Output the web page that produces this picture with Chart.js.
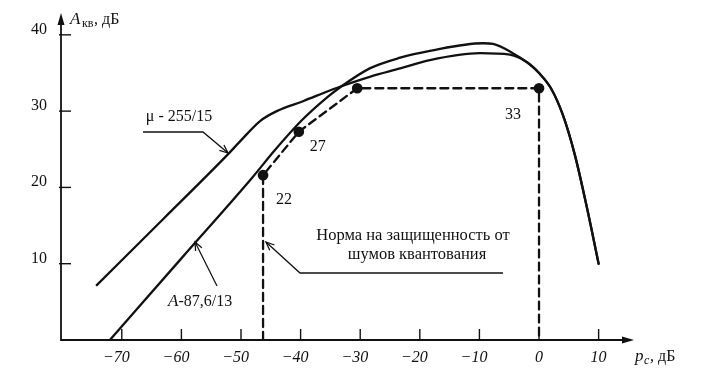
<!DOCTYPE html>
<html>
<head>
<meta charset="utf-8">
<script src="https://cdn.jsdelivr.net/npm/chart.js@4.4.1/dist/chart.umd.min.js"></script>
<style>
  html, body { margin: 0; padding: 0; background: #fff; }
  #wrap { width: 705px; height: 375px; }
</style>
</head>
<body>
<div id="wrap"><canvas id="chart" width="705" height="375"></canvas></div>
<script>
// signal level p_c, dB and protection A_kv, dB
const pcA = [-72, -60, -48.2, -44.3, -39.8, -35.4, -33.4, -28.4, -23.3, -18.3, -9.4, -7.7, -4.4, -2, 0, 2, 4, 6, 8, 10];
const aqA = [0, 10.7, 21.2, 24.9, 28.8, 31.9, 33.1, 35.6, 37.0, 37.9, 38.9, 38.8, 37.6, 36.4, 35.0, 33.0, 29.5, 24.3, 17.5, 10];
const pcMu = [-74.2, -63, -52, -50.2, -46.8, -44, -39.6, -35.1, -33.4, -28.4, -23.3, -18.3, -9.9, -4.9, -2, 0, 2, 4, 6, 8, 10];
const aqMu = [7.2, 15.9, 24.5, 26.0, 28.7, 30.0, 31.3, 32.7, 33.2, 34.5, 35.6, 36.7, 37.6, 37.4, 36.4, 35.0, 33.0, 29.5, 24.3, 17.5, 10];
// norm line (dashed) with marked points
const normPc = [-46.3, -46.3, -40.3, -30.5, 0, 0];
const normAq = [0, 21.6, 27.3, 33, 33, 0];
const normLabels = ["", "22", "27", "", "33", ""];
const xTicks = [-70, -60, -50, -40, -30, -20, -10, 0, 10];
const yTicks = [10, 20, 30, 40];

const ink = "#111";
const serif = "'Liberation Serif'";
const toXY = (xs, ys) => xs.map((x, i) => ({ x: x, y: ys[i] }));

function arrowTo(ctx, pts) {
  ctx.beginPath();
  ctx.moveTo(pts[0][0], pts[0][1]);
  for (let i = 1; i < pts.length; i++) ctx.lineTo(pts[i][0], pts[i][1]);
  ctx.stroke();
  const [x1, y1] = pts[pts.length - 2];
  const [x2, y2] = pts[pts.length - 1];
  const a = Math.atan2(y2 - y1, x2 - x1);
  ctx.beginPath();
  ctx.moveTo(x2 - 9 * Math.cos(a - 0.4), y2 - 9 * Math.sin(a - 0.4));
  ctx.lineTo(x2, y2);
  ctx.lineTo(x2 - 9 * Math.cos(a + 0.4), y2 - 9 * Math.sin(a + 0.4));
  ctx.stroke();
}

const drawing = {
  id: "drawing",
  afterDraw(chart) {
    const ctx = chart.ctx;
    const xs = chart.scales.x, ys = chart.scales.y;
    const x0 = xs.left, y0 = ys.bottom;
    ctx.save();
    ctx.strokeStyle = ink;
    ctx.fillStyle = ink;
    ctx.lineWidth = 1.8;

    // axes with arrows
    ctx.beginPath();
    ctx.moveTo(x0, ys.top + 6);
    ctx.lineTo(x0, y0);
    ctx.lineTo(xs.right - 6, y0);
    ctx.stroke();
    ctx.beginPath();
    ctx.moveTo(x0, ys.top - 2);
    ctx.lineTo(x0 - 3.5, ys.top + 10);
    ctx.lineTo(x0 + 3.5, ys.top + 10);
    ctx.closePath();
    ctx.fill();
    ctx.beginPath();
    ctx.moveTo(xs.right + 2, y0);
    ctx.lineTo(xs.right - 10, y0 - 3.5);
    ctx.lineTo(xs.right - 10, y0 + 3.5);
    ctx.closePath();
    ctx.fill();

    // ticks point inward
    ctx.lineWidth = 1.4;
    xTicks.forEach(v => {
      const px = xs.getPixelForValue(v);
      ctx.beginPath(); ctx.moveTo(px, y0); ctx.lineTo(px, y0 - 11); ctx.stroke();
    });
    yTicks.forEach(v => {
      const py = ys.getPixelForValue(v);
      ctx.beginPath(); ctx.moveTo(x0 - 2, py); ctx.lineTo(x0 + 10, py); ctx.stroke();
    });

    // tick labels
    ctx.font = "italic 16px " + serif;
    ctx.textBaseline = "middle";
    xTicks.forEach(v => {
      const px = xs.getPixelForValue(v);
      const digits = String(Math.abs(v));
      const w = ctx.measureText(digits).width;
      ctx.textAlign = "right";
      ctx.fillText((v < 0 ? "\u2212" : "") + digits, px + w / 2, y0 + 18);
    });
    ctx.font = "16px " + serif;
    ctx.textAlign = "right";
    ctx.textBaseline = "alphabetic";
    yTicks.forEach(v => {
      ctx.fillText(String(v), 47, ys.getPixelForValue(v) - 1);
    });

    // axis titles
    ctx.textAlign = "left";
    ctx.font = "italic 17px " + serif;
    ctx.fillText("A", 70, 24);
    ctx.font = "12px " + serif;
    ctx.fillText("кв", 82, 27);
    ctx.font = "16px " + serif;
    ctx.fillText(", дБ", 94, 24);
    ctx.font = "italic 17px " + serif;
    ctx.fillText("p", 635, 361);
    ctx.font = "italic 12px " + serif;
    ctx.fillText("c", 644, 364);
    ctx.font = "16px " + serif;
    ctx.fillText(", дБ", 650, 361);

    // point value labels
    ctx.font = "16px " + serif;
    ctx.textAlign = "center";
    ctx.textBaseline = "middle";
    const lblOff = { "22": [21, 25], "27": [19, 15], "33": [-26, 27] };
    normLabels.forEach((t, i) => {
      if (!t) return;
      const px = xs.getPixelForValue(normPc[i]), py = ys.getPixelForValue(normAq[i]);
      ctx.fillText(t, px + lblOff[t][0], py + lblOff[t][1]);
    });

    // curve captions with leaders
    ctx.lineWidth = 1.3;
    ctx.font = "16px " + serif;
    ctx.fillText("\u03bc - 255/15", 179, 117);
    arrowTo(ctx, [[143, 132], [203, 132], [228, 153]]);

    ctx.textAlign = "left";
    ctx.font = "italic 17px " + serif;
    ctx.fillText("A", 168, 302);
    const wA = ctx.measureText("A").width;
    ctx.font = "16px " + serif;
    ctx.fillText("-87,6/13", 168 + wA, 302);
    arrowTo(ctx, [[217, 286], [195, 242]]);

    ctx.textAlign = "center";
    ctx.font = "16.5px " + serif;
    ctx.fillText("Норма на защищенность от", 413, 236);
    ctx.fillText("шумов квантования", 417, 255);
    arrowTo(ctx, [[503, 273], [300, 273], [266, 242]]);

    ctx.restore();
  }
};

new Chart(document.getElementById("chart"), {
  type: "scatter",
  data: {
    datasets: [
      {
        label: "A-87,6/13",
        data: toXY(pcA, aqA),
        showLine: true,
        borderColor: ink,
        borderWidth: 2.3,
        pointRadius: 0,
        cubicInterpolationMode: "monotone"
      },
      {
        label: "μ-255/15",
        data: toXY(pcMu, aqMu),
        showLine: true,
        borderColor: ink,
        borderWidth: 2.3,
        pointRadius: 0,
        cubicInterpolationMode: "monotone"
      },
      {
        label: "Норма",
        data: toXY(normPc, normAq),
        showLine: true,
        borderColor: ink,
        borderWidth: 2.3,
        borderDash: [8, 5],
        tension: 0,
        pointRadius: normPc.map((x, i) => (i === 0 || i === normPc.length - 1) ? 0 : 4.2),
        pointBackgroundColor: ink,
        pointBorderColor: ink
      }
    ]
  },
  options: {
    responsive: false,
    animation: false,
    devicePixelRatio: 1,
    layout: { padding: { left: 61, right: 73, top: 15, bottom: 35 } },
    plugins: { legend: { display: false }, tooltip: { enabled: false } },
    elements: { line: { borderCapStyle: "round" } },
    scales: {
      x: { type: "linear", min: -80.2, max: 15.6, display: false },
      y: { type: "linear", min: 0, max: 42.6, display: false }
    }
  },
  plugins: [drawing]
});
</script>
</body>
</html>
